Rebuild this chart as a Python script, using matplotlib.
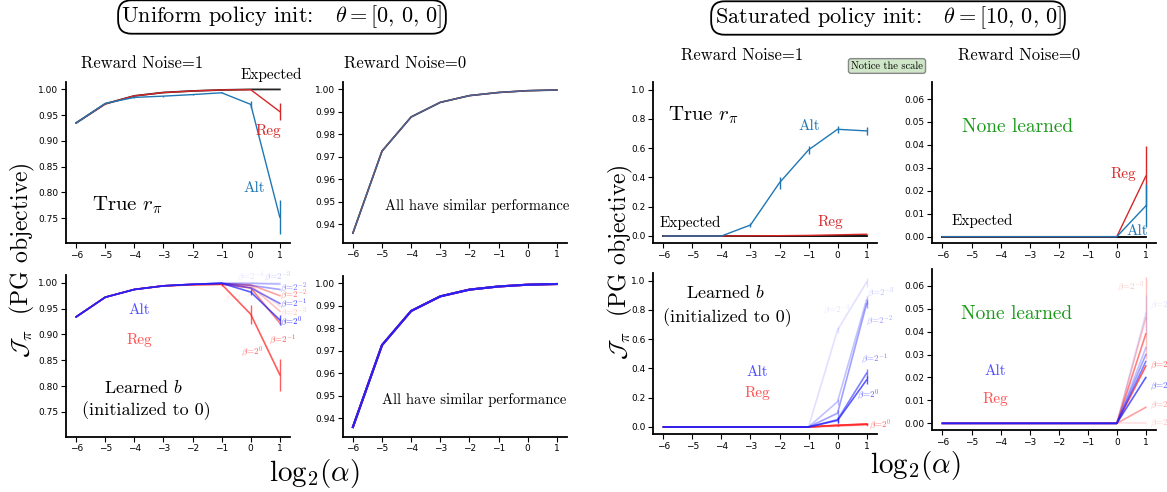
import matplotlib
matplotlib.use("Agg")
import matplotlib.pyplot as plt
import numpy as np

plt.rcParams['mathtext.fontset'] = 'cm'
plt.rcParams['font.family'] = 'DejaVu Sans'

# ---------------- data ----------------
log_alpha = [-6, -5, -4, -3, -2, -1, 0, 1]
betas = [-4, -3, -2, -1, 0]          # beta = 2^b
beta_alpha = [0.13, 0.27, 0.42, 0.57, 0.72]

# Uniform init, noise=1, true r
u1_expected = [0.935, 0.972, 0.9875, 0.994, 0.997, 0.999, 1.0, 1.0]
u1_reg = [0.935, 0.972, 0.9875, 0.994, 0.997, 0.999, 0.9995, 0.957]
u1_reg_err = [0, 0, 0, 0, 0, 0, 0.001, 0.016]
u1_alt = [0.935, 0.973, 0.9845, 0.987, 0.990, 0.9935, 0.971, 0.752]
u1_alt_err = [0.001, 0.001, 0.001, 0.001, 0.001, 0.001, 0.007, 0.033]

# Uniform init, noise=0, true r (all methods)
u0_all = [0.936, 0.9725, 0.9877, 0.9942, 0.9972, 0.9986, 0.9994, 0.9997]

# Uniform init, noise=1, learned b (rows = betas 2^-4..2^0)
u1b_alt = [
    [0.934, 0.972, 0.987, 0.994, 0.997, 0.999, 0.999, 0.999],
    [0.934, 0.972, 0.987, 0.994, 0.997, 0.999, 0.999, 0.997],
    [0.934, 0.972, 0.987, 0.994, 0.997, 0.999, 0.995, 0.987],
    [0.934, 0.972, 0.987, 0.994, 0.997, 0.999, 0.990, 0.960],
    [0.934, 0.972, 0.987, 0.994, 0.997, 0.999, 0.982, 0.928],
]
u1b_alt_err = [0, 0, 0, 0, 0, 0, 0.005, 0.010]
u1b_reg = [
    [0.934, 0.972, 0.987, 0.994, 0.997, 0.998, 0.995, 0.955],
    [0.934, 0.972, 0.987, 0.994, 0.997, 0.998, 0.994, 0.945],
    [0.934, 0.972, 0.987, 0.994, 0.997, 0.998, 0.996, 0.975],
    [0.934, 0.972, 0.987, 0.994, 0.996, 0.997, 0.990, 0.922],
    [0.934, 0.972, 0.987, 0.994, 0.996, 0.997, 0.939, 0.822],
]
u1b_reg_err = [0, 0, 0, 0, 0, 0.003, 0.018, 0.031]

# Saturated init, noise=1, true r
s1_expected = [0, 0, 0, 0, 0, 0, 0, 0]
s1_alt = [0, 0, 0, 0.075, 0.364, 0.588, 0.729, 0.718]
s1_alt_err = [0, 0, 0, 0.012, 0.04, 0.03, 0.025, 0.025]
s1_reg = [0, 0, 0, 0.001, 0.002, 0.004, 0.008, 0.012]
s1_reg_err = [0, 0, 0, 0, 0, 0, 0.002, 0.004]

# Saturated init, noise=0, true r
s0_expected = [0, 0, 0, 0, 0, 0, 0, 0]
s0_reg = [0, 0, 0, 0, 0, 0, 0, 0.0264]
s0_reg_err = [0, 0, 0, 0, 0, 0, 0, 0.013]
s0_alt = [0, 0, 0, 0, 0, 0, 0, 0.0134]
s0_alt_err = [0, 0, 0, 0, 0, 0, 0, 0.0094]

# Saturated init, noise=1, learned b
s1b_alt = [
    [0, 0, 0, 0, 0, 0, 0.663, 0.989],
    [0, 0, 0, 0, 0, 0, 0.173, 0.868],
    [0, 0, 0, 0, 0, 0, 0.094, 0.840],
    [0, 0, 0, 0, 0, 0, 0.050, 0.367],
    [0, 0, 0, 0, 0, 0, 0.045, 0.321],
]
s1b_alt_err = [0, 0, 0, 0, 0, 0, 0.02, 0.03]
s1b_reg = [
    [0, 0, 0, 0, 0, 0, 0.005, 0.012],
    [0, 0, 0, 0, 0, 0, 0.008, 0.015],
    [0, 0, 0, 0, 0, 0, 0.010, 0.018],
    [0, 0, 0, 0, 0, 0, 0.012, 0.020],
    [0, 0, 0, 0, 0, 0, 0.012, 0.020],
]
s1b_reg_err = [0, 0, 0, 0, 0, 0, 0.002, 0.005]

# Saturated init, noise=0, learned b
s0b_alt = [
    [0, 0, 0, 0, 0, 0, 0, 0.048],
    [0, 0, 0, 0, 0, 0, 0, 0.033],
    [0, 0, 0, 0, 0, 0, 0, 0.030],
    [0, 0, 0, 0, 0, 0, 0, 0.027],
    [0, 0, 0, 0, 0, 0, 0, 0.020],
]
s0b_alt_err = [0, 0, 0, 0, 0, 0, 0, 0.008]
s0b_reg = [
    [0, 0, 0, 0, 0, 0, 0, 0.000],
    [0, 0, 0, 0, 0, 0, 0, 0.046],
    [0, 0, 0, 0, 0, 0, 0, 0.007],
    [0, 0, 0, 0, 0, 0, 0, 0.039],
    [0, 0, 0, 0, 0, 0, 0, 0.025],
]
s0b_reg_err = [0, 0, 0, 0, 0, 0, 0, 0.018]

xticks = [-6, -5, -4, -3, -2, -1, 0, 1]

# ---------------- style ----------------
TAB_BLUE = '#1f77b4'
TAB_RED = '#d62728'
BLUE = '#2020ff'
RED = '#ff2020'
TXT_BLUE = '#5050ff'
TXT_RED = '#ff5050'
GREEN = '#1a9a1a'
SERIF = 'cmr10'

W, H = 1167, 492
fig = plt.figure(figsize=(W / 100, H / 100), dpi=100)


def px_axes(l, t, r, b):
    return fig.add_axes([l / W, 1 - b / H, (r - l) / W, (b - t) / H])


def style(ax, ylim, yticks, yfmt):
    ax.set_xlim(-6.35, 1.35)
    ax.set_ylim(*ylim)
    ax.set_xticks(xticks)
    ax.set_yticks(yticks)
    ax.set_yticklabels([yfmt.format(v) for v in yticks])
    ax.set_xticklabels([str(v).replace('-', '\u2212') for v in xticks])
    for s in ['top', 'right']:
        ax.spines[s].set_visible(False)
    for s in ['left', 'bottom']:
        ax.spines[s].set_linewidth(1.3)
    ax.tick_params(labelsize=6.5, length=3.5, width=0.8, pad=2)
    ax.patch.set_alpha(0)


def eb(ax, y, err, color, lw=1.0, alpha=1.0):
    ax.errorbar(log_alpha, y, yerr=err, color=color, lw=lw, elinewidth=1.0,
                capsize=0, alpha=alpha)


def t(ax, x, y, s, color='k', size=11, ha='center', alpha=1.0):
    ax.text(x, y, s, color=color, fontsize=size, ha=ha, va='center',
            family=SERIF, alpha=alpha, clip_on=False)


blab = [r'$\beta\!=\!2^{-4}$', r'$\beta\!=\!2^{-3}$', r'$\beta\!=\!2^{-2}$',
        r'$\beta\!=\!2^{-1}$', r'$\beta\!=\!2^{0}$']

ylim_u = (0.702, 1.015)
yt_u = [0.75, 0.80, 0.85, 0.90, 0.95, 1.00]
ylim_u0 = (0.9317, 1.0034)
yt_u0 = [0.94, 0.95, 0.96, 0.97, 0.98, 0.99, 1.00]
ylim_s = (-0.05, 1.05)
yt_s = [0.0, 0.2, 0.4, 0.6, 0.8, 1.0]
ylim_s0 = (-0.0029, 0.0673)
yt_s0 = [0.00, 0.01, 0.02, 0.03, 0.04, 0.05, 0.06]

# ---- Panel 1 ----
ax1 = px_axes(66, 81.7, 290, 243)
style(ax1, ylim_u, yt_u, '{:.2f}')
ax1.plot(log_alpha, u1_expected, color='#222222', lw=1.3)
eb(ax1, u1_reg, u1_reg_err, TAB_RED)
eb(ax1, u1_alt, u1_alt_err, TAB_BLUE)
t(ax1, 0.72, 1.028, 'Expected', size=11)
t(ax1, 0.62, 0.919, 'Reg', TAB_RED, 11)
t(ax1, 0.13, 0.809, 'Alt', TAB_BLUE, 11)
t(ax1, -4.23, 0.776, r'True $r_\pi$', size=15)

# ---- Panel 2 ----
ax2 = px_axes(342.7, 81.7, 567, 242.7)
style(ax2, ylim_u0, yt_u0, '{:.2f}')
ax2.plot(log_alpha, u0_all, color='#222222', lw=1.2)
ax2.plot(log_alpha, u0_all, color=TAB_RED, lw=1.0)
ax2.plot(log_alpha, u0_all, color=TAB_BLUE, lw=1.0, alpha=0.8)
t(ax2, -1.72, 0.948, 'All have similar performance', size=10.5)

# ---- Panel 3 ----
ax3 = px_axes(66, 275, 290, 436.7)
style(ax3, ylim_u, yt_u, '{:.2f}')
for i in range(len(betas)):
    eb(ax3, u1b_reg[i], u1b_reg_err if i == 4 else [0] * 8, RED, 1.2, beta_alpha[i])
for i in range(len(betas)):
    eb(ax3, u1b_alt[i], u1b_alt_err if i == 4 else [0] * 8, BLUE, 1.2, beta_alpha[i])
t(ax3, 0.0, 1.011, blab[0], BLUE, 6.5, alpha=beta_alpha[0])
t(ax3, 0.92, 1.011, blab[1], BLUE, 6.5, alpha=beta_alpha[1])
t(ax3, 1.0, 0.991, blab[2], BLUE, 6.5, ha='left', alpha=beta_alpha[2] + 0.2)
t(ax3, 1.0, 0.960, blab[3], BLUE, 6.5, ha='left', alpha=beta_alpha[3] + 0.2)
t(ax3, 1.0, 0.924, blab[4], BLUE, 6.5, ha='left', alpha=beta_alpha[4] + 0.2)
t(ax3, 1.0, 0.976, blab[2], RED, 6.5, ha='left', alpha=beta_alpha[2] + 0.2)
t(ax3, 1.0, 0.942, blab[1], RED, 6.5, ha='left', alpha=beta_alpha[1])
t(ax3, 1.1, 0.889, blab[3], RED, 6.5, alpha=beta_alpha[3] + 0.2)
t(ax3, 0.05, 0.867, blab[4], RED, 6.5, alpha=beta_alpha[4])
t(ax3, -0.47, 0.97, blab[0], RED, 6.5, alpha=beta_alpha[0])
t(ax3, -3.82, 0.947, 'Alt', TXT_BLUE, 11)
t(ax3, -3.82, 0.889, 'Reg', TXT_RED, 11)
t(ax3, -3.68, 0.797, r'Learned $b$', size=13)
t(ax3, -3.58, 0.752, '(initialized to 0)', size=13)

# ---- Panel 4 ----
ax4 = px_axes(342.7, 275.7, 567, 436.7)
style(ax4, ylim_u0, yt_u0, '{:.2f}')
for i in range(len(betas)):
    ax4.plot(log_alpha, u0_all, color=RED, lw=1.5, alpha=beta_alpha[i])
for i in range(len(betas)):
    ax4.plot(log_alpha, u0_all, color=BLUE, lw=1.5, alpha=beta_alpha[i])
t(ax4, -1.84, 0.9479, 'All have similar performance', size=10.5)

# ---- Panel 5 ----
ax5 = px_axes(653.3, 82.3, 876.7, 243.3)
style(ax5, ylim_s, yt_s, '{:.1f}')
ax5.plot(log_alpha, s1_expected, color='k', lw=1.3)
eb(ax5, s1_reg, s1_reg_err, TAB_RED)
eb(ax5, s1_alt, s1_alt_err, TAB_BLUE)
t(ax5, -4.63, 0.827, r'True $r_\pi$', size=15)
t(ax5, -0.98, 0.752, 'Alt', TAB_BLUE, 11)
t(ax5, -5.08, 0.089, 'Expected', size=11)
t(ax5, -0.26, 0.096, 'Reg', TAB_RED, 11)

# ---- Panel 6 ----
ax6 = px_axes(932.3, 82.3, 1156, 243.3)
style(ax6, ylim_s0, yt_s0, '{:.2f}')
ax6.plot(log_alpha, s0_expected, color='k', lw=1.3)
eb(ax6, s0_reg, s0_reg_err, TAB_RED)
eb(ax6, s0_alt, s0_alt_err, TAB_BLUE)
t(ax6, -3.43, 0.0478, 'None learned', GREEN, 14)
t(ax6, 0.22, 0.0273, 'Reg', TAB_RED, 11)
t(ax6, -4.63, 0.0068, 'Expected', size=11)
t(ax6, 0.70, 0.0025, 'Alt', TAB_BLUE, 11)

# ---- Panel 7 ----
ax7 = px_axes(653.3, 273.3, 876.7, 434.3)
style(ax7, ylim_s, yt_s, '{:.1f}')
for i in range(len(betas)):
    eb(ax7, s1b_reg[i], s1b_reg_err, RED, 1.2, beta_alpha[i])
for i in range(len(betas)):
    eb(ax7, s1b_alt[i], s1b_alt_err, BLUE, 1.2, beta_alpha[i])
t(ax7, -0.03, 0.80, blab[0], BLUE, 6.5, alpha=beta_alpha[0])
t(ax7, 1.0, 0.914, blab[1], BLUE, 6.5, ha='left', alpha=beta_alpha[1])
t(ax7, 0.97, 0.725, blab[2], BLUE, 6.5, ha='left', alpha=beta_alpha[2])
t(ax7, 0.8, 0.463, blab[3], BLUE, 6.5, ha='left', alpha=beta_alpha[3])
t(ax7, 0.66, 0.219, blab[4], BLUE, 6.5, ha='left', alpha=beta_alpha[4])
t(ax7, 1.08, 0.014, blab[4], RED, 6.5, ha='left', alpha=beta_alpha[4])
t(ax7, -3.87, 0.916, r'Learned $b$', size=13)
t(ax7, -3.81, 0.745, '(initialized to 0)', size=13)
t(ax7, -2.78, 0.376, 'Alt', TXT_BLUE, 11)
t(ax7, -2.78, 0.232, 'Reg', TXT_RED, 11)

# ---- Panel 8 ----
ax8 = px_axes(932.3, 269, 1156, 430)
style(ax8, ylim_s0, yt_s0, '{:.2f}')
for i in range(len(betas)):
    eb(ax8, s0b_reg[i], s0b_reg_err if i == 1 else [0] * 8, RED, 1.2, beta_alpha[i])
for i in range(len(betas)):
    eb(ax8, s0b_alt[i], s0b_alt_err if i == 0 else [0] * 8, BLUE, 1.2, beta_alpha[i])
t(ax8, 0.95, 0.0596, blab[1], RED, 6.5, ha='right', alpha=beta_alpha[1])
t(ax8, 1.14, 0.0519, blab[0], BLUE, 6.5, ha='left', alpha=beta_alpha[0])
t(ax8, 1.14, 0.0254, blab[4], RED, 6.5, ha='left', alpha=beta_alpha[4])
t(ax8, 1.14, 0.0162, blab[4], BLUE, 6.5, ha='left', alpha=beta_alpha[4])
t(ax8, 1.14, 0.0079, blab[2], RED, 6.5, ha='left', alpha=beta_alpha[2])
t(ax8, 1.14, 0.0003, blab[0], RED, 6.5, ha='left', alpha=beta_alpha[1])
t(ax8, -3.46, 0.0477, 'None learned', GREEN, 14)
t(ax8, -4.19, 0.0228, 'Alt', TXT_BLUE, 11)
t(ax8, -4.19, 0.0106, 'Reg', TXT_RED, 11)


# ---------------- figure texts ----------------
def ft(x, y, s, size, **kw):
    fig.text(x / W, 1 - y / H, s, fontsize=size, ha='center', va='center',
             family=SERIF, **kw)


ft(282, 17, r'Uniform policy init:   $\theta = [0,\,0,\,0]$', 16,
   bbox=dict(boxstyle='round,pad=0.15,rounding_size=0.6', fc='white', ec='black', lw=1.3))
ft(888, 18, r'Saturated policy init:   $\theta = [10,\,0,\,0]$', 16,
   bbox=dict(boxstyle='round,pad=0.15,rounding_size=0.6', fc='white', ec='black', lw=1.3))
ft(142, 63, 'Reward Noise=1', 12)
ft(405, 63, 'Reward Noise=0', 12)
ft(742, 55, 'Reward Noise=1', 12)
ft(1019, 55, 'Reward Noise=0', 12)
ft(887, 66, 'Notice the scale', 7.5,
   bbox=dict(boxstyle='round,pad=0.25', fc='#cfe6c8', ec='#888888', lw=1.0))
ft(22, 260, r'$\mathcal{J}_\pi$  (PG objective)', 17, rotation=90)
ft(620, 262, r'$\mathcal{J}_\pi$  (PG objective)', 17, rotation=90)
ft(314, 474, r'$\mathrm{log}_2(\alpha)$', 21)
ft(915, 466, r'$\mathrm{log}_2(\alpha)$', 21)

fig.savefig('out.png', dpi=100)
